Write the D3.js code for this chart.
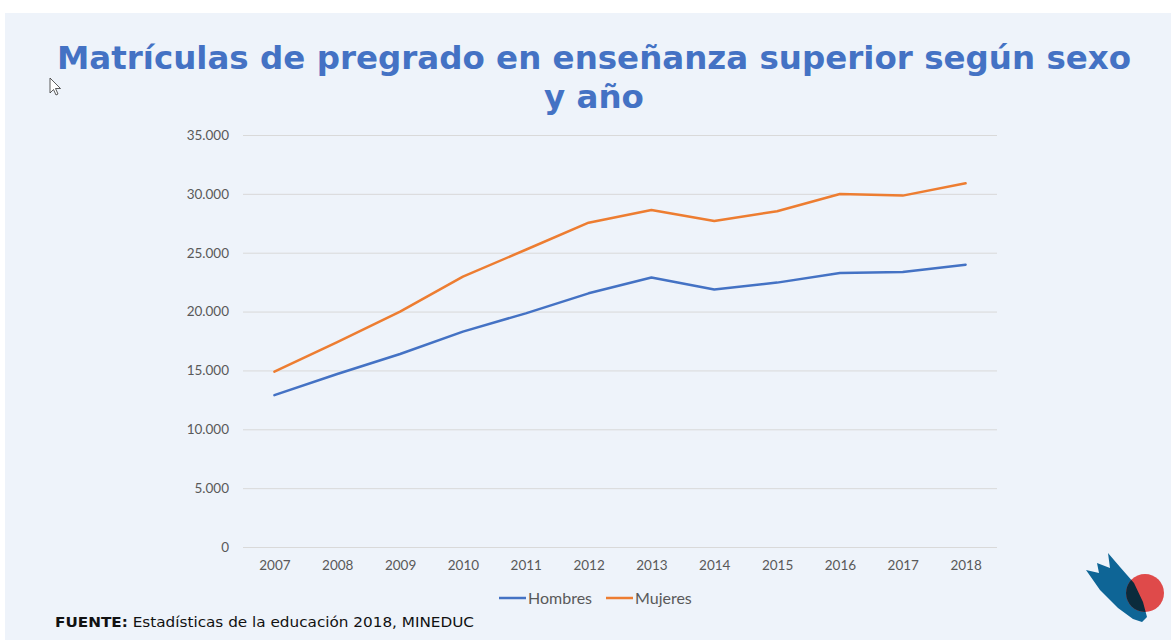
<!DOCTYPE html>
<html><head><meta charset="utf-8">
<script src="https://cdn.jsdelivr.net/npm/d3@7"></script>
<style>html,body{margin:0;padding:0;background:#fff;}svg{display:block;}</style>
</head><body>
<script>
const years = ["2007","2008","2009","2010","2011","2012","2013","2014","2015","2016","2017","2018"];
const hombres = [12900, 14700, 16400, 18300, 19850, 21550, 22900, 21880, 22460, 23280, 23360, 23980];
const mujeres = [14900, 17400, 19990, 22970, 25250, 27550, 28630, 27700, 28520, 29990, 29850, 30900];
const yTicks = [0, 5000, 10000, 15000, 20000, 25000, 30000, 35000];
const seriesNames = ["Hombres", "Mujeres"];
const seriesColors = ["#4472C4", "#ED7D31"];
const titleLines = ["Matrículas de pregrado en enseñanza superior según sexo", "y año"];

const W = 1171, H = 640;
const svg = d3.select("body").append("svg").attr("width", W).attr("height", H);
svg.append("rect").attr("x", 5).attr("y", 13).attr("width", W - 5).attr("height", H - 13).attr("fill", "#EEF3FA");

// title
const title = svg.append("text").attr("font-family", "DejaVu Sans, Verdana, sans-serif")
  .attr("font-weight", "bold").attr("font-size", 32.5).attr("fill", "#4472C4").attr("text-anchor", "middle");
title.append("tspan").attr("x", 594).attr("y", 69).text(titleLines[0]);
title.append("tspan").attr("x", 594).attr("y", 108).text(titleLines[1]);

const x = d3.scalePoint().domain(years).range([243, 997]).padding(0.5);
const y = d3.scaleLinear().domain([0, 35000]).range([547, 135]);

const fmt = d => d3.format(",")(d).replace(/,/g, ".");

// grid
svg.append("g").selectAll("line").data(yTicks).join("line")
  .attr("x1", 243).attr("x2", 997).attr("y1", d => y(d) + 0.5).attr("y2", d => y(d) + 0.5)
  .attr("stroke", "#D9D9D9").attr("stroke-width", 1);

// y axis
const yAxis = svg.append("g").attr("transform", "translate(229,0)")
  .call(d3.axisLeft(y).tickValues(yTicks).tickFormat(fmt).tickSize(0).tickPadding(0));
yAxis.select(".domain").remove();
yAxis.selectAll("text").attr("font-family", "Lato, 'Open Sans', sans-serif").attr("font-size", 13.5).attr("fill", "#595959");

// x axis
const xAxis = svg.append("g").attr("transform", "translate(0,547)")
  .call(d3.axisBottom(x).tickSize(0).tickPadding(13));
xAxis.select(".domain").remove();
xAxis.selectAll("text").attr("font-family", "Lato, 'Open Sans', sans-serif").attr("font-size", 13.5).attr("fill", "#595959");

// lines
const line = d3.line().x((d, i) => x(years[i])).y(d => y(d));
[hombres, mujeres].forEach((s, k) => {
  svg.append("path").datum(s).attr("d", line).attr("fill", "none")
    .attr("stroke", seriesColors[k]).attr("stroke-width", 2.5).attr("stroke-linejoin", "round").attr("stroke-linecap", "round");
});

// legend
const legX = [499, 606];
seriesNames.forEach((n, k) => {
  const g = svg.append("g").attr("transform", `translate(${legX[k]},598)`);
  g.append("line").attr("x1", 0).attr("x2", 27).attr("stroke", seriesColors[k]).attr("stroke-width", 2.5);
  g.append("text").attr("x", 29).attr("y", 6).text(n)
    .attr("font-family", "Lato, 'Open Sans', sans-serif").attr("font-size", 16).attr("fill", "#595959");
});

// footer
const foot = svg.append("text").attr("x", 55).attr("y", 627)
  .attr("font-family", "DejaVu Sans, Verdana, sans-serif").attr("font-size", 14.5).attr("fill", "#111")
  .attr("textLength", 419).attr("lengthAdjust", "spacingAndGlyphs");
foot.append("tspan").attr("font-weight", "bold").text("FUENTE:");
foot.append("tspan").text(" Estadísticas de la educación 2018, MINEDUC");

// logo
const blueShape = "M1086,570 L1099,573 L1097,563 L1110,568 L1108,553 L1120,567 L1134,583 L1143,602 L1147,617 L1142,622 L1133,619 L1118,608 L1100,590 Z";
const defs = svg.append("defs");
defs.append("clipPath").attr("id", "circClip").append("circle").attr("cx", 1145).attr("cy", 593).attr("r", 19);
const logo = svg.append("g");
logo.append("path").attr("d", blueShape).attr("fill", "#0E6596");
logo.append("circle").attr("cx", 1145).attr("cy", 593).attr("r", 19).attr("fill", "#DF4A4A");
logo.append("path").attr("d", blueShape).attr("fill", "#0B2B3C").attr("clip-path", "url(#circClip)");

// cursor
svg.append("path").attr("d", "M50,78 L50,93 L53.5,89.5 L56,95 L58,94 L55.5,88.5 L60.5,88.5 Z")
  .attr("fill", "#fff").attr("stroke", "#333").attr("stroke-width", 0.8);
</script>
</body></html>
